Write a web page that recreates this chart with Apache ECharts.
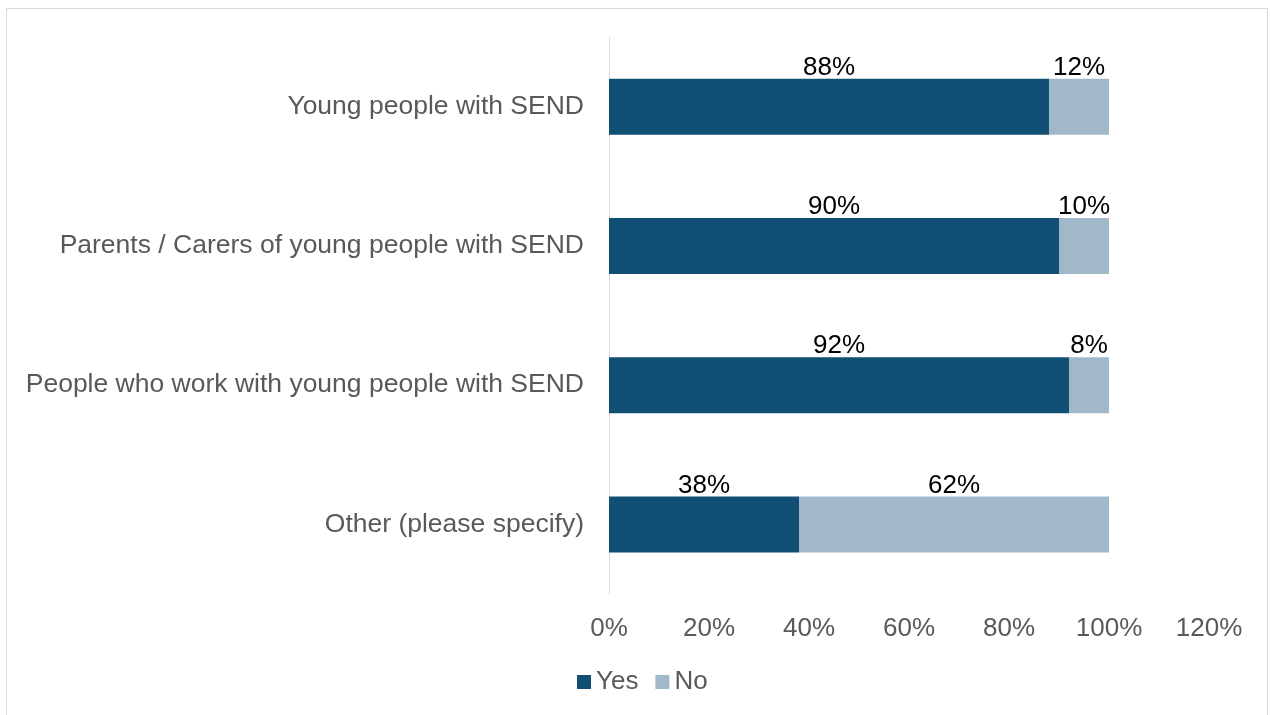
<!DOCTYPE html>
<html>
<head>
<meta charset="utf-8">
<script src="https://cdn.jsdelivr.net/npm/echarts@6/dist/echarts.min.js"></script>
<style>
  html, body { margin: 0; padding: 0; background: #fff; }
  #frame { position: absolute; left: 6px; top: 8px; width: 1262px; height: 720px; border: 1px solid #d9d9d9; box-sizing: border-box; }
  #chart { position: absolute; left: 0; top: 0; width: 1270px; height: 715px; }
</style>
</head>
<body>
<div id="frame"></div>
<div id="chart"></div>
<script>
// Respondent groups, top to bottom
const categories = [
  'Young people with SEND',
  'Parents / Carers of young people with SEND',
  'People who work with young people with SEND',
  'Other (please specify)'
];
// Share answering Yes / No (%)
const yesValues = [88, 90, 92, 38];
const noValues = [12, 10, 8, 62];
const seriesNames = ['Yes', 'No'];

const chart = echarts.init(document.getElementById('chart'), null, { renderer: 'canvas' });
const font = '"Liberation Sans", Arial, sans-serif';

const labelStyle = {
  show: true,
  position: 'top',
  distance: -2,
  formatter: p => p.value + '%',
  color: '#000',
  fontSize: 26,
  fontFamily: font
};

chart.setOption({
  animation: false,
  grid: { left: 609, right: 61, top: 37, bottom: 121 },
  xAxis: {
    type: 'value',
    min: 0,
    max: 120,
    interval: 20,
    axisLine: { show: false },
    axisTick: { show: false },
    splitLine: { show: false },
    axisLabel: {
      formatter: '{value}%',
      color: '#595959',
      fontSize: 26,
      fontFamily: font,
      margin: 22
    }
  },
  yAxis: {
    type: 'category',
    data: categories,
    inverse: true,
    axisLine: { show: true, lineStyle: { color: '#d9d9d9', width: 1 } },
    axisTick: { show: false },
    axisLabel: {
      color: '#595959',
      fontSize: 26.5,
      fontFamily: font,
      margin: 25
    }
  },
  legend: {
    bottom: 15,
    left: 572,
    itemWidth: 14,
    itemHeight: 14,
    itemGap: 17,
    icon: 'rect',
    textStyle: { color: '#595959', fontSize: 26, fontFamily: font },
    data: seriesNames
  },
  series: [
    {
      name: seriesNames[0],
      type: 'bar',
      stack: 'total',
      barWidth: 56,
      data: yesValues,
      itemStyle: { color: '#114F74' },
      label: labelStyle
    },
    {
      name: seriesNames[1],
      type: 'bar',
      stack: 'total',
      barWidth: 56,
      data: noValues,
      itemStyle: { color: '#A1B8C8' },
      label: labelStyle
    }
  ]
});
</script>
</body>
</html>
